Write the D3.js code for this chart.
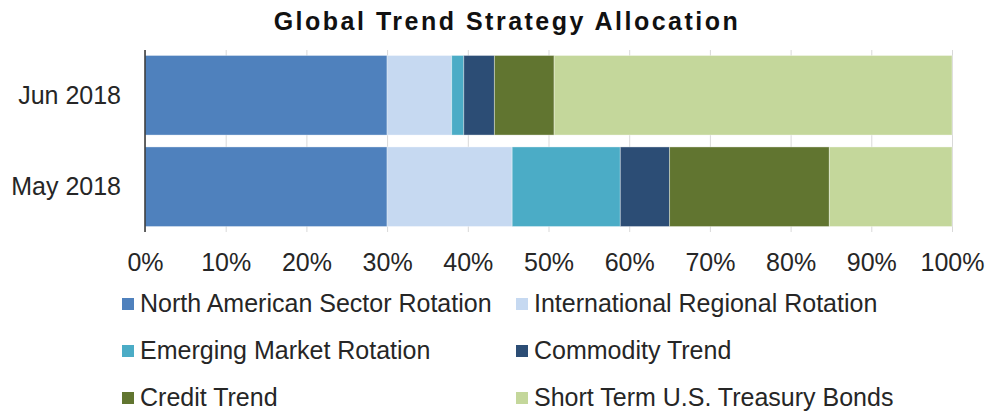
<!DOCTYPE html>
<html>
<head>
<meta charset="utf-8">
<script src="https://cdn.jsdelivr.net/npm/d3@7"></script>
<style>
  html, body { margin: 0; padding: 0; background: #fff; }
  svg { display: block; font-family: Arial, "Liberation Sans", sans-serif; }
</style>
</head>
<body>
<svg id="chart"></svg>
<script>
// ── Data ──────────────────────────────────────────────────────────────────
const periods = ["Jun 2018", "May 2018"];
const series  = [
    "North American Sector Rotation",
    "International Regional Rotation",
    "Emerging Market Rotation",
    "Commodity Trend",
    "Credit Trend",
    "Short Term U.S. Treasury Bonds"
];
const jun2018 = [30, 8, 1.5, 3.8, 7.4, 49.3];
const may2018 = [30, 15.5, 13.4, 6.1, 19.8, 15.2];
const colors  = ["#4f81bd", "#c6d9f1", "#4bacc6", "#2c4d75", "#617530", "#c4d79b"];
const ticks   = [0, 10, 20, 30, 40, 50, 60, 70, 80, 90, 100];

const W = 986, H = 411;
const margin = { top: 50, right: 34, bottom: 179, left: 145 };
const w = W - margin.left - margin.right;
const h = H - margin.top - margin.bottom;

const svg = d3.select("#chart").attr("width", W).attr("height", H);
const g = svg.append("g").attr("transform", `translate(${margin.left},${margin.top})`);

const values = { "Jun 2018": jun2018, "May 2018": may2018 };
const rows = periods.map(p => {
    let acc = 0;
    return series.map((s, i) => {
        const v = values[p][i];
        const seg = { period: p, key: s, i, x0: acc, x1: acc + v };
        acc += v;
        return seg;
    });
});

// ── Scales ────────────────────────────────────────────────────────────────
const x = d3.scaleLinear().domain([0, 100]).range([0, w]);
const y = d3.scaleBand().domain(periods).range([0, h])
    .paddingInner(0.13).paddingOuter(0.06);

// ── Gridlines ─────────────────────────────────────────────────────────────
g.append("g")
    .call(d3.axisBottom(x).tickValues(ticks).tickSize(h).tickFormat(() => ""))
    .call(a => a.select(".domain").remove())
    .call(a => a.selectAll("line").attr("stroke", "#d9d9d9").attr("stroke-width", 1));

// ── Bars ──────────────────────────────────────────────────────────────────
g.selectAll("g.row")
    .data(rows)
    .join("g")
    .attr("class", "row")
    .selectAll("rect")
    .data(d => d)
    .join("rect")
    .attr("x", d => x(d.x0))
    .attr("width", d => x(d.x1) - x(d.x0))
    .attr("y", d => y(d.period))
    .attr("height", y.bandwidth())
    .attr("fill", d => colors[d.i])
    .attr("stroke", "#ffffff")
    .attr("stroke-opacity", 0.35)
    .attr("stroke-width", 1);

// ── Axes ──────────────────────────────────────────────────────────────────
g.append("line")
    .attr("x1", 0).attr("x2", 0)
    .attr("y1", 0).attr("y2", h)
    .attr("stroke", "#333").attr("stroke-width", 1.5);

g.append("g")
    .attr("transform", `translate(0,${h})`)
    .call(d3.axisBottom(x).tickValues(ticks).tickSize(0).tickPadding(0).tickFormat(d => d + "%"))
    .call(a => a.select(".domain").remove())
    .selectAll("text")
        .attr("y", 39).attr("dy", null)
        .attr("font-size", 25)
        .attr("font-family", "Arial, 'Liberation Sans', sans-serif")
        .attr("fill", "#262626");

g.append("g")
    .call(d3.axisLeft(y).tickSize(0).tickPadding(24))
    .call(a => a.select(".domain").remove())
    .selectAll("text")
        .attr("dy", "0.34em")
        .attr("font-size", 25)
        .attr("font-family", "Arial, 'Liberation Sans', sans-serif")
        .attr("fill", "#262626");

// ── Title ─────────────────────────────────────────────────────────────────
svg.append("text")
    .attr("x", 507).attr("y", 30)
    .attr("text-anchor", "middle")
    .attr("font-size", 25)
    .attr("font-weight", "bold")
    .attr("letter-spacing", 2.5)
    .attr("fill", "#111")
    .text("Global Trend Strategy Allocation");

// ── Legend ────────────────────────────────────────────────────────────────
const legend = svg.append("g");
const item = legend.selectAll("g")
    .data(series)
    .join("g")
    .attr("transform", (d, i) => `translate(${i % 2 === 0 ? 122 : 516},${312 + Math.floor(i / 2) * 47})`);

item.append("rect")
    .attr("x", 0).attr("y", -14)
    .attr("width", 12).attr("height", 12)
    .attr("fill", (d, i) => colors[i]);

item.append("text")
    .attr("x", 18).attr("y", 0)
    .attr("font-size", 25)
    .attr("fill", "#262626")
    .text(d => d);
</script>
</body>
</html>
